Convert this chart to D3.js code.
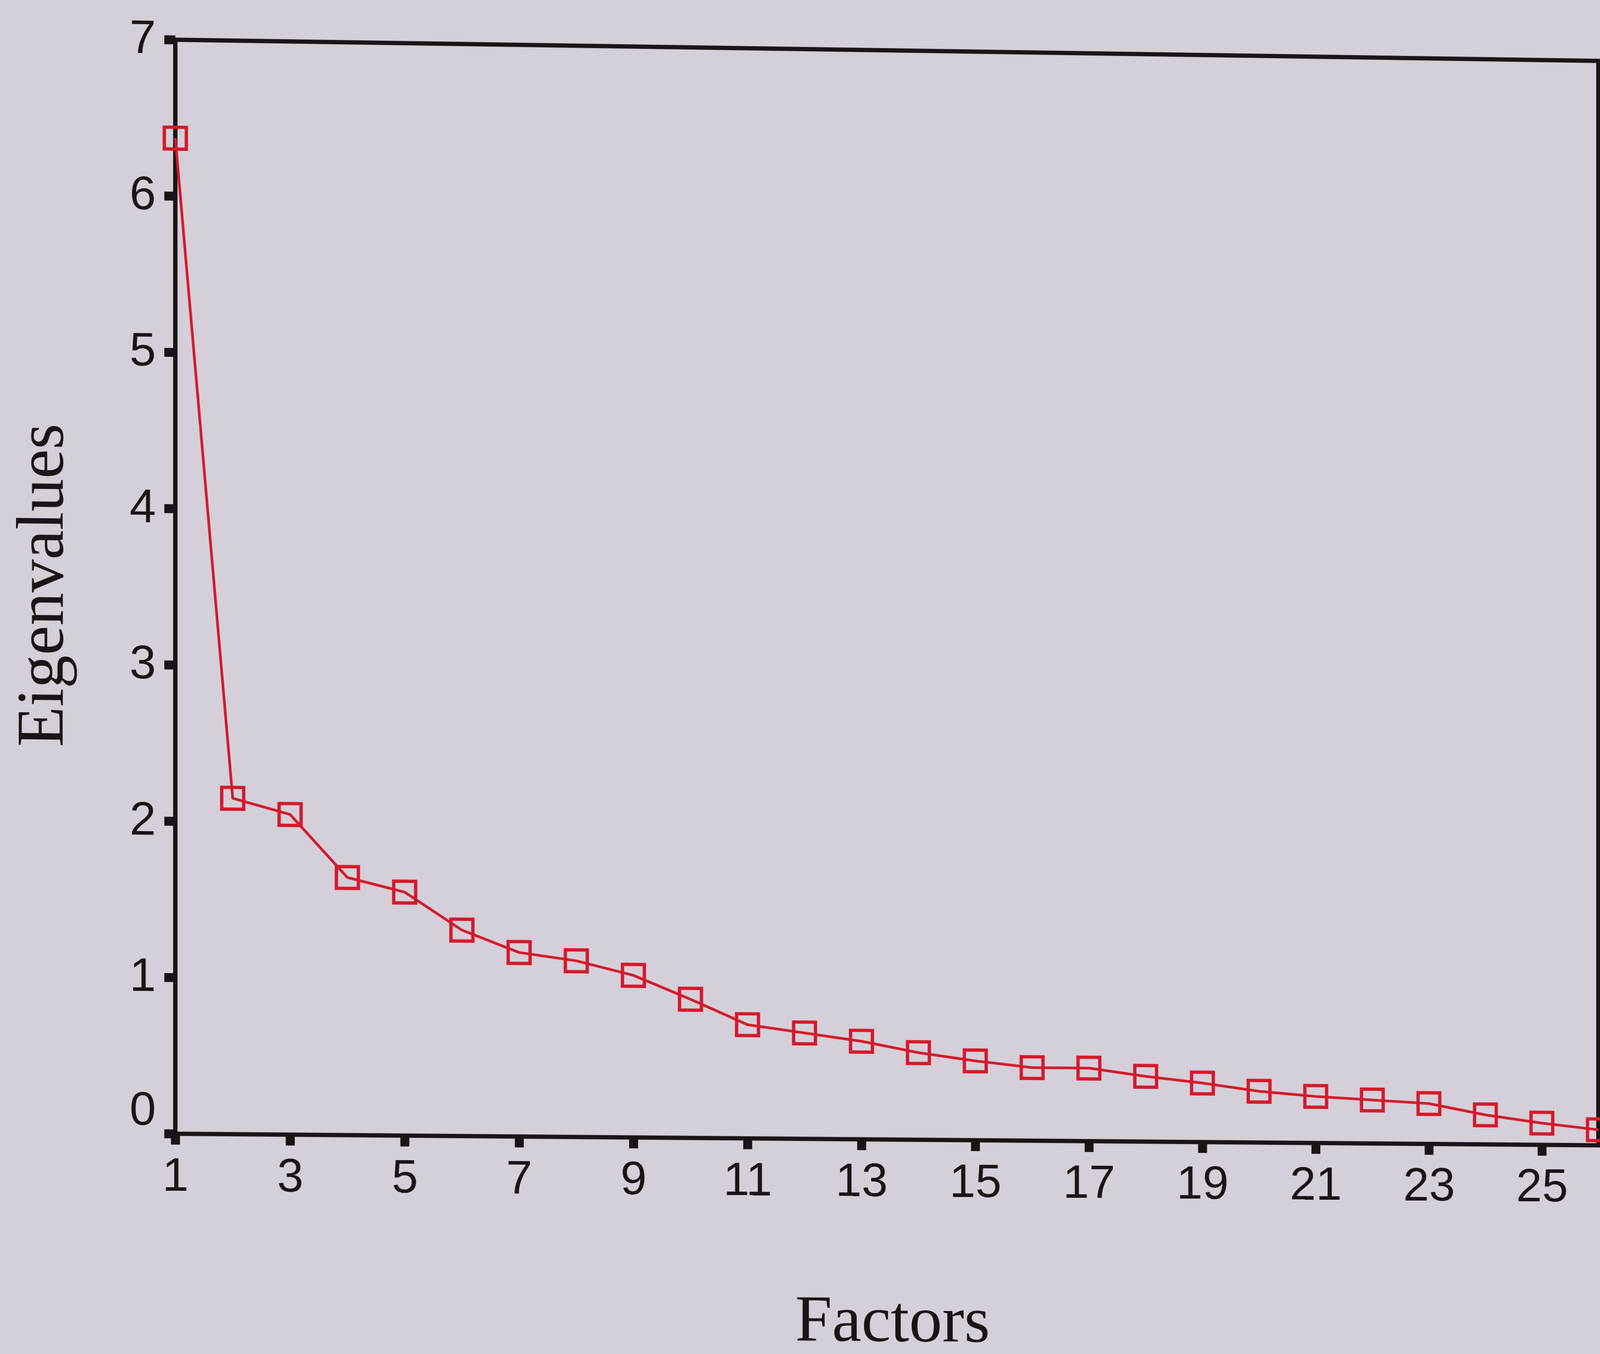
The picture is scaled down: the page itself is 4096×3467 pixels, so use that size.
<!DOCTYPE html>
<html>
<head>
<meta charset="utf-8">
<script src="https://cdn.jsdelivr.net/npm/d3@7"></script>
<style>
  html, body { margin: 0; padding: 0; background: #d5cfd9; overflow: hidden; }
  #page { position: absolute; left: 0; top: 0; width: 4096px; height: 3467px; transform-origin: 0 0; }
</style>
</head>
<body>
<div id="page"><svg id="chart"></svg></div>
<script>
const factors = [1, 2, 3, 4, 5, 6, 7, 8, 9, 10, 11, 12, 13, 14, 15, 16, 17, 18, 19, 20, 21, 22, 23, 24, 25, 26];
const eigenvalues = [6.37, 2.15, 2.05, 1.65, 1.56, 1.32, 1.18, 1.13, 1.04, 0.89, 0.73, 0.68, 0.63,
                     0.56, 0.51, 0.47, 0.47, 0.42, 0.38, 0.33, 0.30, 0.28, 0.26, 0.19, 0.14, 0.10];
const xTicks = [1, 3, 5, 7, 9, 11, 13, 15, 17, 19, 21, 23, 25];
const yTicks = [0, 1, 2, 3, 4, 5, 6, 7];

const W = 4837, H = 4094; // reference size, drawn into a 4096 x 3467 window
const k = 4096 / W;

const svg = d3.select('#chart')
    .attr('width', 4096)
    .attr('height', 3467)
    .attr('viewBox', `0 0 ${W} ${H}`);

const x = d3.scaleLinear().domain([1, 26]).range([530, 4832]);
const y = d3.scaleLinear().domain([0, 7]).range([3428, 120]);

const ink = '#1a1416';
const red = '#d4192a';

// plot frame
svg.append('rect')
    .attr('x', x(1)).attr('y', y(7))
    .attr('width', x(26) - x(1)).attr('height', y(0) - y(7))
    .attr('fill', 'none').attr('stroke', ink).attr('stroke-width', 13);

// scree line + hollow square markers
const line = d3.line().x((d, i) => x(factors[i])).y(d => y(d));
svg.append('path')
    .datum(eigenvalues)
    .attr('d', line)
    .attr('fill', 'none').attr('stroke', red).attr('stroke-width', 8)
    .attr('stroke-linejoin', 'round');

const m = 66;
svg.selectAll('.marker')
    .data(eigenvalues)
    .enter()
    .append('rect')
    .classed('marker', true)
    .attr('x', (d, i) => x(factors[i]) - m / 2)
    .attr('y', d => y(d) - m / 2)
    .attr('width', m).attr('height', m)
    .attr('fill', 'none').attr('stroke', red).attr('stroke-width', 10);

// axes
const yAxis = svg.append('g')
    .attr('transform', `translate(${x(1)},0)`)
    .call(d3.axisLeft(y).tickValues(yTicks).tickFormat(d3.format('d')).tickSize(33).tickPadding(25));
const xAxis = svg.append('g')
    .attr('transform', `translate(0,${y(0)})`)
    .call(d3.axisBottom(x).tickValues(xTicks).tickFormat(d3.format('d')).tickSize(33).tickPadding(39));

[xAxis, yAxis].forEach(g => {
  g.select('.domain').remove();
  g.selectAll('.tick line').attr('stroke', ink).attr('stroke-width', 27);
  g.selectAll('.tick text')
      .attr('fill', ink)
      .style('font-family', '"Liberation Sans", Arial, sans-serif')
      .style('font-size', '142px');
});
yAxis.selectAll('.tick text').attr('dy', d => d === 0 ? '-0.19em' : '0.29em');

// titles
svg.append('text')
    .attr('transform', `translate(193,${(y(0) + y(7)) / 2}) rotate(-90)`)
    .attr('text-anchor', 'middle')
    .attr('fill', ink)
    .style('font-family', '"Liberation Serif", "Times New Roman", serif')
    .style('font-size', '200px')
    .text('Eigenvalues');

svg.append('text')
    .attr('x', (x(1) + x(26)) / 2 + 8)
    .attr('y', 4040)
    .attr('text-anchor', 'middle')
    .attr('fill', ink)
    .style('font-family', '"Liberation Serif", "Times New Roman", serif')
    .style('font-size', '200px')
    .text('Factors');

// the reference is a photo of a printed page: warp the flat plot frame onto
// the photographed frame corners with a homography
const flat = [[x(1), y(7)], [x(26), y(7)], [x(26), y(0)], [x(1), y(0)]];
const photo = [[530, 120], [4832, 184], [4832, 3463], [530, 3428]];

function homography(src, dst) {
  const A = [], b = [];
  src.forEach(([px, py], i) => {
    const [u, v] = dst[i];
    A.push([px, py, 1, 0, 0, 0, -px * u, -py * u]); b.push(u);
    A.push([0, 0, 0, px, py, 1, -px * v, -py * v]); b.push(v);
  });
  const n = 8;
  for (let c = 0; c < n; c++) {
    let p = c;
    for (let r = c + 1; r < n; r++) if (Math.abs(A[r][c]) > Math.abs(A[p][c])) p = r;
    [A[c], A[p]] = [A[p], A[c]]; [b[c], b[p]] = [b[p], b[c]];
    for (let r = c + 1; r < n; r++) {
      const f = A[r][c] / A[c][c];
      for (let j = c; j < n; j++) A[r][j] -= f * A[c][j];
      b[r] -= f * b[c];
    }
  }
  const h = new Array(n);
  for (let r = n - 1; r >= 0; r--) {
    let sum = b[r];
    for (let j = r + 1; j < n; j++) sum -= A[r][j] * h[j];
    h[r] = sum / A[r][r];
  }
  return h;
}

const h = homography(flat.map(p => p.map(v => v * k)), photo.map(p => p.map(v => v * k)));
d3.select('#page').style('transform',
    `matrix3d(${h[0]},${h[3]},0,${h[6]},${h[1]},${h[4]},0,${h[7]},0,0,1,0,${h[2]},${h[5]},0,1)`);
</script>
</body>
</html>
